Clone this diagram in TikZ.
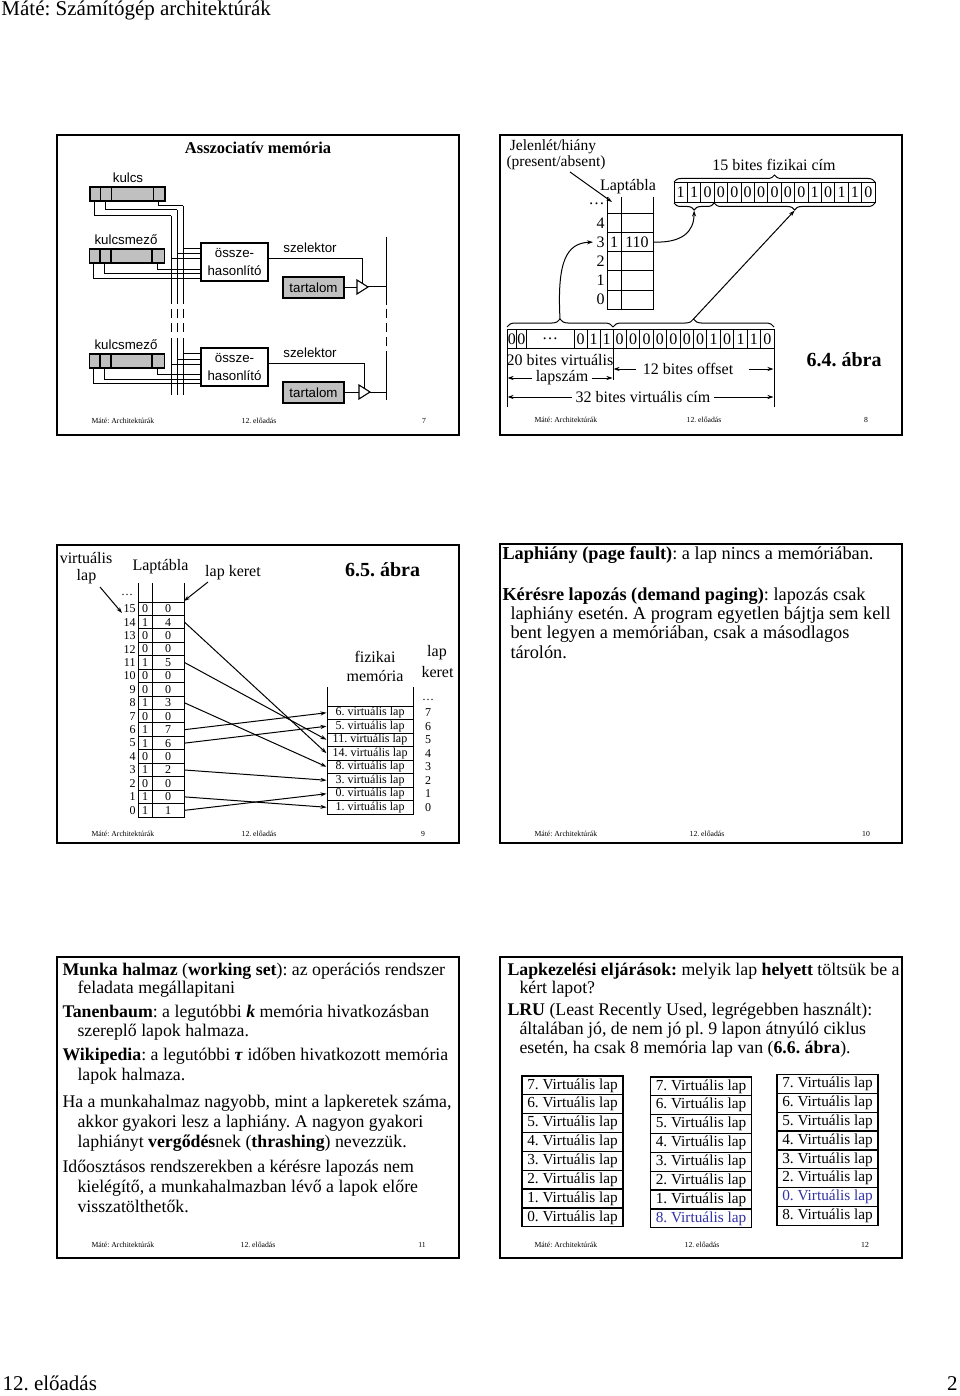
\documentclass[tikz,border=0pt]{standalone}
\usepackage{fontspec}
\setmainfont{Liberation Serif}
\newfontfamily\arialf{Liberation Sans}
\usetikzlibrary{arrows.meta,decorations.pathreplacing,calc}
\newcommand\fsz[1]{\fontsize{#1}{#1}\selectfont}
\definecolor{regfill}{RGB}{192,192,192}
\definecolor{bluetxt}{RGB}{50,50,165}
\frenchspacing
\begin{document}
\frenchspacing
\begin{tikzpicture}[x=1pt,y=-1pt,line width=1pt,
  slide/.style={draw,line width=2pt},
  foot/.style={inner sep=0,font=\fsz{7.7}},
  txt/.style={inner sep=0,anchor=base west},
  arr/.style={-{Stealth[length=6pt,width=4pt]}},
  reg/.style={draw,fill=regfill,minimum width=75pt,minimum height=14pt,inner sep=0,line width=1.1pt},
  cmp/.style={draw,minimum width=67pt,minimum height=38pt,inner sep=0,align=center,font=\arialf\fontsize{13.3}{18}\selectfont,line width=1.1pt},
  tart/.style={draw,fill=regfill,minimum width=61pt,minimum height=21pt,inner sep=0,font=\arialf\fsz{13.3},line width=1.1pt},
  albl/.style={inner sep=0,font=\arialf\fsz{13.3}},
  slbl/.style={inner sep=0,font=\fsz{16}},
  bcell/.style={draw,inner sep=0,minimum height=19.2pt,font=\fsz{16}},
  tcell/.style={draw,inner sep=0,minimum height=13.44pt,font=\fsz{12}},
  pcell/.style={draw,inner sep=0,minimum width=86pt,minimum height=13.5pt,font=\fsz{12}},
  vcell/.style={draw,inner sep=0,minimum width=101pt,minimum height=18.85pt,font=\fsz{15.3},line width=1.3pt},
  curly/.style={decorate,decoration={brace,amplitude=#1}},
  curlym/.style={decorate,decoration={brace,mirror,amplitude=#1}},
  bigtxt/.style={inner sep=0,font=\bfseries\fsz{20}}
]
\useasboundingbox (0,0) rectangle (960,1396);
\fill[white] (0,0) rectangle (960,1396);

% page header / footer
\node[txt,font=\fsz{21}] (hdr) at (1,16) {Máté: Számítógép architektúrák};
\node[txt,font=\fsz{21}] (pgl) at (2,1390) {12. előadás};
\node[inner sep=0,anchor=base east,font=\fsz{21}] (pgn) at (958,1390) {2};

% slide frames
\draw[slide] (57,135) rectangle (459,435);
\draw[slide] (500,135) rectangle (902,435);
\draw[slide] (57,545) rectangle (459,843);
\draw[slide] (500,544) rectangle (902,843);
\draw[slide] (57,957) rectangle (459,1258);
\draw[slide] (500,957) rectangle (902,1258);

% slide footers
\foreach \sx/\sy/\cx/\nx/\nm in {91/423/259/424/7, 534/422/704/866/8, 91/836/259/423/9, 534/836/707/866/10, 91/1247/258/422/11, 534/1247/702/865/12}{
  \node[foot,anchor=base west] (fa\nm) at (\sx,\sy) {Máté: Architektúrák};
  \node[foot,anchor=base] (fb\nm) at (\cx,\sy) {12. előadás};
  \node[foot,anchor=base] (fc\nm) at (\nx,\sy) {\nm};
}

% ================= slide 7 =================
\node[inner sep=0,font=\bfseries\fsz{16.5}] (t7) at (258,148) {Asszociatív memória};
\node[albl] (lkulcs) at (128,178) {kulcs};
\node[reg] (kreg) at (127.5,194) {};
\foreach \o in {11,22,64} \draw[line width=1.1pt] ($(kreg.north west)+(\o,0)$) -- ($(kreg.south west)+(\o,0)$);
\coordinate (b1t) at (171,216);
\coordinate (b2t) at (177,210);
\coordinate (b3t) at (183,206);
\draw ($(kreg.south west)+(5,0)$) |- (b1t);
\draw ($(kreg.south west)+(16,0)$) |- (b2t);
\draw ($(kreg.south west)+(69.5,0)$) |- (b3t);
\foreach \bx/\bt in {171/216,177/210,183/206}{
  \draw (\bx,\bt) -- (\bx,304);
  \draw (\bx,309) -- (\bx,318);
  \draw (\bx,323) -- (\bx,332);
  \draw (\bx,338) -- (\bx,395);
}
\draw (386,237) -- (386,305);
\draw (386,309) -- (386,318);
\draw (386,323) -- (386,332);
\draw (386,337) -- (386,346);
\draw (386,351) -- (386,400);

\foreach \g/\dy/\dx in {1/0/0,2/105/2}{
  \node[albl] (lkm\g) at (126,{240+\dy}) {kulcsmező};
  \node[reg] (kr\g) at (127,{256+\dy}) {};
  \foreach \o in {11,22,63} \draw[line width=1.1pt] ($(kr\g.north west)+(\o,0)$) -- ($(kr\g.south west)+(\o,0)$);
  \node[cmp] (c\g) at (234.5,{262+\dy}) {össze-\\hasonlító};
  \draw (183,{248.3+\dy}) -- ($(c\g.west)+(0,-13.7)$);
  \draw (177,{254+\dy}) -- ($(c\g.west)+(0,-8)$);
  \draw (171,{259+\dy}) -- ($(c\g.west)+(0,-3)$);
  \draw ($(kr\g.south west)+(69,0)$) |- ($(c\g.west)+(0,7.3)$);
  \draw ($(kr\g.south west)+(16,0)$) |- ($(c\g.west)+(0,12)$);
  \draw ($(kr\g.south west)+(5,0)$) |- ($(c\g.west)+(0,16.3)$);
  \node[albl] (sz\g) at (310,{248+\dy}) {szelektor};
  \draw ($(c\g.east)+(0,-3.7)$) -| ({362+\dx},{283+\dy});
  \node[tart] (tt\g) at (313.5,{287.5+\dy}) {tartalom};
  \draw[line width=1.1pt] ({357+\dx},{280+\dy}) -- ({368+\dx},{287+\dy}) coordinate (tip\g) -- ({357+\dx},{294+\dy}) -- cycle;
  \draw (tt\g.east) -- ({357+\dx},{287.5+\dy});
  \draw (tip\g) -- (386,{287+\dy});
}

% ================= slide 8 =================
\node[inner sep=0,font=\fsz{15.5}] (jel) at (553,147) {Jelenlét/hiány};
\node[inner sep=0,font=\fsz{15.5}] (pres) at (556,163) {(present/absent)};
\node[slbl] (lt8) at (628,187) {Laptábla};
\draw[arr] (570,172) -- (612,202);
\foreach \x in {607,621,653} \draw (\x,197) -- (\x,213.3);
\foreach \r/\i in {4/0,3/1,2/2,1/3,0/4}{
  \node[bcell,minimum width=14pt] (pp\r) at (614,{222.9+19.2*\i}) {};
  \node[bcell,minimum width=32pt] (pf\r) at (637,{222.9+19.2*\i}) {};
  \node[slbl,anchor=east] (pl\r) at (605,{222.9+19.2*\i}) {\r};
}
\node[slbl,anchor=east] (pld) at (605,204) {…};
\node[slbl] (pv31) at (pp3.center) {1};
\node[slbl] (pv32) at (pf3.center) {110};
\foreach \b [count=\i] in {1,1,0,0,0,0,0,0,0,0,1,0,1,1,0}
  \node[bcell,minimum width=13.4pt] (ph\i) at ({674+13.4*(\i-0.5)},192.5) {\b};
\draw[curly=7pt] (674,182) -- (875,182);
\node[slbl] (l15) at (774,165) {15 bites fizikai cím};
\draw[curlym=7pt] (674,203) -- (714.2,203);
\draw[curlym=7pt] (714.2,203) -- (875,203);
\coordinate (tipA) at (694.1,210.5);
\coordinate (tipB) at (794.6,210.5);
% virtual address
\node[bcell,minimum width=9.5pt] (vr1) at (511.75,339) {0};
\node[bcell,minimum width=9.5pt] (vr2) at (521.25,339) {0};
\node[bcell,minimum width=48pt] (vr3) at (550,339) {…};
\node[bcell,minimum width=13pt] (vr4) at (580.5,339) {0};
\node[bcell,minimum width=13pt] (vr5) at (593.5,339) {1};
\node[bcell,minimum width=13pt] (vr6) at (606.5,339) {1};
\foreach \b [count=\i] in {0,0,0,0,0,0,0,1,0,1,1,0}
  \node[bcell,minimum width=13.42pt] (vo\i) at ({613+13.42*(\i-0.5)},339) {\b};
\draw[curly=8pt] (507,327) -- (613,327);
\draw[curly=8pt] (613,327) -- (774,327);
\coordinate (tipC) at (560,319);
\coordinate (tipD) at (693.5,319);
\draw[arr] (pf3.east) .. controls (682,243) and (694,232) .. (tipA);
\draw[arr] (tipC) .. controls (557,262) and (566,243) .. ($(pl3.west)+(-3,0)$);
\draw[arr] (tipD) -- (tipB);
\draw (507,348) -- (507,407);
\draw (774,348) -- (774,407);
\draw (613,348) -- (613,380);
\node[slbl] (l20) at (560,360) {20 bites virtuális};
\node[slbl] (llsz) at (562,378) {lapszám};
\draw[arr] ($(llsz.west)+(-3,0)$) -- (507.5,378);
\draw[arr] ($(llsz.east)+(3,0)$) -- (612.5,378);
\node[slbl] (l12) at (688,369) {12 bites offset};
\draw[arr] ($(l12.west)+(-6,0)$) -- (613.5,369);
\draw[arr] ($(l12.east)+(15,0)$) -- (773.5,369);
\node[slbl] (l32) at (643,397) {32 bites virtuális cím};
\draw[arr] ($(l32.west)+(-3,0)$) -- (507.5,397);
\draw[arr] ($(l32.east)+(3,0)$) -- (773.5,397);
\node[bigtxt] (ab64) at (844,360) {6.4. ábra};

% ================= slide 9 =================
\node[slbl] (vl1) at (86,558) {virtuális};
\node[slbl] (vl2) at (86.5,577) {lap};
\node[slbl] (lt9) at (160.5,567) {Laptábla};
\node[slbl] (lk9) at (233,573) {lap keret};
\node[bigtxt] (ab65) at (382.5,570) {6.5. ábra};
\draw[arr] (100,587) -- (122,613);
\draw[arr] (208,582) -- (184,601);
\foreach \x in {138,152,184} \draw (\x,583) -- (\x,602);
\node[inner sep=0,font=\fsz{12}] (dd9) at (127,595) {…};
\foreach \v/\p/\f in {15/0/0,14/1/4,13/0/0,12/0/0,11/1/5,10/0/0,9/0/0,8/1/3,7/0/0,6/1/7,5/1/6,4/0/0,3/1/2,2/0/0,1/1/0,0/1/1}{
  \node[tcell,minimum width=14pt] (pr\v) at (145,{608.72+13.44*(15-\v)}) {\p};
  \node[tcell,minimum width=32pt] (fr\v) at (168,{608.72+13.44*(15-\v)}) {\f};
  \node[inner sep=0,anchor=east,font=\fsz{12}] (lv\v) at (136,{608.72+13.44*(15-\v)}) {\v};
}
\node[slbl] (fz1) at (375,657) {fizikai};
\node[slbl] (fz2) at (375,676) {memória};
\node[slbl] (lk1) at (437,653) {lap};
\node[slbl] (lk2) at (437.5,672) {keret};
\foreach \x in {327,413} \draw (\x,687) -- (\x,706);
\node[inner sep=0,font=\fsz{12}] (dd9b) at (428,700) {…};
\foreach \f/\vp in {7/6,6/5,5/11,4/14,3/8,2/3,1/0,0/1}{
  \node[pcell] (pm\f) at (370,{712.75+13.5*(7-\f)}) {\vp. virtuális lap};
  \node[inner sep=0,font=\fsz{12}] (kn\f) at (428,{712.75+13.5*(7-\f)}) {\f};
}
\foreach \v/\f in {14/4,11/5,8/3,6/7,5/6,3/2,1/0,0/1}
  \draw[arr] (fr\v.east) -- (pm\f.west);

% ================= slide 10 =================
\node[txt,font=\fsz{18.3}] (s10a) at (502,559) {\textbf{Laphiány (page fault)}: a lap nincs a memóriában.};
\node[txt,font=\fsz{18.3}] (s10b) at (502,600) {\textbf{Kérésre lapozás (demand paging)}: lapozás csak};
\node[txt,font=\fsz{18.3}] (s10c) at (510,619) {laphiány esetén. A program egyetlen bájtja sem kell};
\node[txt,font=\fsz{18.3}] (s10d) at (510,638) {bent legyen a memóriában, csak a másodlagos};
\node[txt,font=\fsz{18.3}] (s10e) at (510,658) {tárolón.};

% ================= slide 11 =================
\node[txt,font=\fsz{17.8}] (s11a) at (62,975) {\textbf{Munka halmaz} (\textbf{working set}): az operációs rendszer};
\node[txt,font=\fsz{17.8}] (s11b) at (77,993) {feladata megállapitani};
\node[txt,font=\fsz{17.8}] (s11c) at (62,1017) {\textbf{Tanenbaum}: a legutóbbi \textbf{\textit{k}} memória hivatkozásban};
\node[txt,font=\fsz{17.8}] (s11d) at (77,1036) {szereplő lapok halmaza.};
\node[txt,font=\fsz{17.8}] (s11e) at (62,1060) {\textbf{Wikipedia}: a legutóbbi \textbf{\textit{τ}} időben hivatkozott memória};
\node[txt,font=\fsz{17.8}] (s11f) at (77,1080) {lapok halmaza.};
\node[txt,font=\fsz{17.8}] (s11g) at (62,1107) {Ha a munkahalmaz nagyobb, mint a lapkeretek száma,};
\node[txt,font=\fsz{17.8}] (s11h) at (77,1127) {akkor gyakori lesz a laphiány. A nagyon gyakori};
\node[txt,font=\fsz{17.8}] (s11i) at (77,1147) {laphiányt \textbf{vergődés}nek (\textbf{thrashing}) nevezzük.};
\node[txt,font=\fsz{17.8}] (s11j) at (62,1172) {Időosztásos rendszerekben a kérésre lapozás nem};
\node[txt,font=\fsz{17.8}] (s11k) at (77,1192) {kielégítő, a munkahalmazban lévő a lapok előre};
\node[txt,font=\fsz{17.8}] (s11l) at (77,1212) {visszatölthetők.};

% ================= slide 12 =================
\node[txt,font=\fsz{17.8}] (s12a) at (507,975) {\textbf{Lapkezelési eljárások:} melyik lap \textbf{helyett} töltsük be a};
\node[txt,font=\fsz{17.8}] (s12b) at (519,993) {kért lapot?};
\node[txt,font=\fsz{17.8}] (s12c) at (507,1015) {\textbf{LRU} (Least Recently Used, legrégebben használt):};
\node[txt,font=\fsz{17.8}] (s12d) at (519,1034) {általában jó, de nem jó pl. 9 lapon átnyúló ciklus};
\node[txt,font=\fsz{17.8}] (s12e) at (519,1053) {esetén, ha csak 8 memória lap van (\textbf{6.6. ábra}).};
\foreach \tx [count=\i from 0] in {{7. Virtuális lap},{6. Virtuális lap},{5. Virtuális lap},{4. Virtuális lap},{3. Virtuális lap},{2. Virtuális lap},{1. Virtuális lap},{0. Virtuális lap}}
  \node[vcell] (va\i) at (572.5,{1085.4+18.85*\i}) {\tx};
\foreach \tx [count=\i from 0] in {{7. Virtuális lap},{6. Virtuális lap},{5. Virtuális lap},{4. Virtuális lap},{3. Virtuális lap},{2. Virtuális lap},{1. Virtuális lap},{\textcolor{bluetxt}{8. Virtuális lap}}}
  \node[vcell] (vb\i) at (701,{1086.4+18.85*\i}) {\tx};
\foreach \tx [count=\i from 0] in {{7. Virtuális lap},{6. Virtuális lap},{5. Virtuális lap},{4. Virtuális lap},{3. Virtuális lap},{2. Virtuális lap},{\textcolor{bluetxt}{0. Virtuális lap}},{8. Virtuális lap}}
  \node[vcell] (vc\i) at (827.5,{1083.9+18.85*\i}) {\tx};
\end{tikzpicture}
\end{document}
